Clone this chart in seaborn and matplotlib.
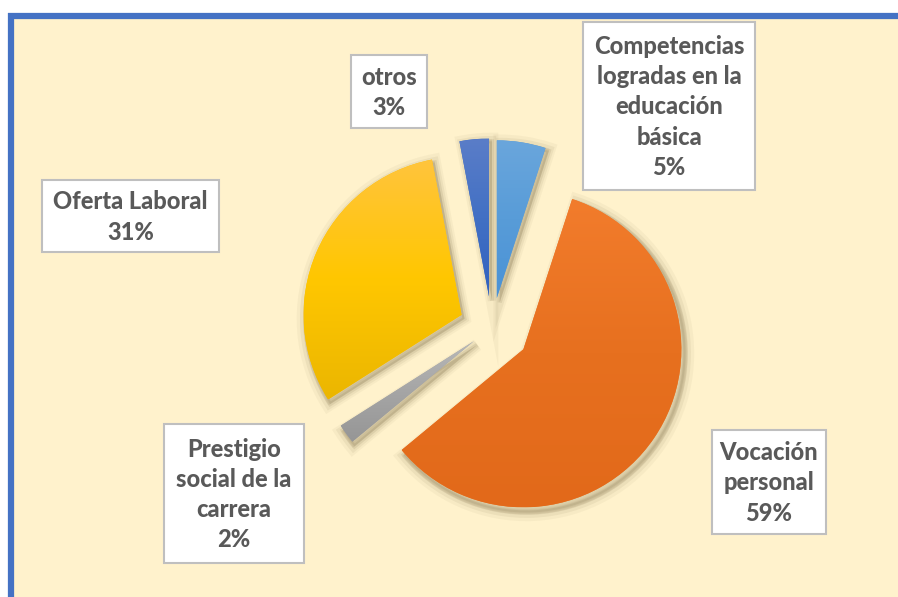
import numpy as np
import matplotlib
matplotlib.use("Agg")
import matplotlib.pyplot as plt
import matplotlib.patches as mpatches
from matplotlib.colors import LinearSegmentedColormap
import seaborn as sns

# data (clockwise from 12 o'clock)
categories = ["Competencias\nlogradas en la\neducación\nbásica",
              "Vocación\npersonal",
              "Prestigio\nsocial de la\ncarrera",
              "Oferta Laboral",
              "otros"]
values = [5, 59, 2, 31, 3]
base_colors = ["#5B9BD5", "#ED7D31", "#A5A5A5", "#FFC000", "#4472C4"]
# gradient (bottom, middle, top) per slice
gradients = [("#4A92D6", "#589CD8", "#6AA6DC"),
             ("#E2691A", "#E7701F", "#F27C2C"),
             ("#969696", "#A5A5A5", "#B8B8B8"),
             ("#EBB600", "#FFC700", "#FFC43D"),
             ("#2F61C0", "#4270C4", "#5A7DC8")]

sns.set_theme(style="white")
plt.rcParams["font.family"] = ["Lato", "DejaVu Sans"]

W, H = 898, 597
fig = plt.figure(figsize=(W / 100, H / 100), dpi=100)
fig.patch.set_facecolor("white")
ax = fig.add_axes([0, 0, 1, 1])

# background panel with blue frame on left/top
ax.add_patch(mpatches.Rectangle((13, -5), W, H - 19 + 5, facecolor="#FFF2CC",
                                edgecolor="none", zorder=0))
ax.plot([10.5, 10.5], [-5, H - 13], color="#4472C4", lw=4.5, zorder=1,
        solid_capstyle="butt")
ax.plot([8, W + 5], [H - 16, H - 16], color="#4472C4", lw=4.5, zorder=1,
        solid_capstyle="butt")

cx, cy, R = 492, H - 328, 158
explode = [0.19 * R, 0.24 * R, 0.14 * R, 0.21 * R, 0.20 * R]

wedges, _ = ax.pie(values, colors=base_colors, startangle=90, counterclock=False,
                   center=(cx, cy), radius=R, explode=explode,
                   wedgeprops=dict(linewidth=0), frame=True)

for w, g in zip(wedges, gradients):
    w.set_zorder(3)
    # soft shadow
    (wx, wy), r = w.center, w.r
    for k, a in [(9, 0.05), (6, 0.08), (3, 0.12)]:
        s = mpatches.Wedge((wx + 3, wy - 4), r + k * 0.4, w.theta1, w.theta2,
                           facecolor="#6E5E38", edgecolor="#6E5E38", lw=k,
                           alpha=a, zorder=2)
        ax.add_patch(s)
    # vertical gradient fill
    ext = w.get_path().get_extents()
    cmap = LinearSegmentedColormap.from_list("g", list(g))
    grad = np.linspace(0, 1, 256).reshape(-1, 1)
    im = ax.imshow(grad, extent=[ext.x0, ext.x1, ext.y0, ext.y1], origin="lower",
                   cmap=cmap, aspect="auto", zorder=4, interpolation="bilinear")
    im.set_clip_path(w)

# label boxes (x0, y0 top-left, x1, y1 in image pixels)
boxes = [(583, 22, 755, 190), (712, 430, 826, 534), (164, 424, 304, 563),
         (42, 180, 219, 252), (351, 55, 427, 128)]
for (x0, y0, x1, y1), cat, v in zip(boxes, categories, values):
    ax.add_patch(mpatches.Rectangle((x0, H - y1), x1 - x0, y1 - y0, facecolor="white",
                                    edgecolor="#BFBFBF", lw=1.5, zorder=5))
    ax.text((x0 + x1) / 2, H - (y0 + y1) / 2 - 1, f"{cat}\n{v}%", ha="center",
            va="center", fontsize=17, fontweight="black", color="#595959",
            linespacing=1.37, zorder=6)

ax.set_xlim(0, W)
ax.set_ylim(0, H)
ax.set_aspect("auto")
ax.axis("off")
fig.savefig("out.png", dpi=100)
